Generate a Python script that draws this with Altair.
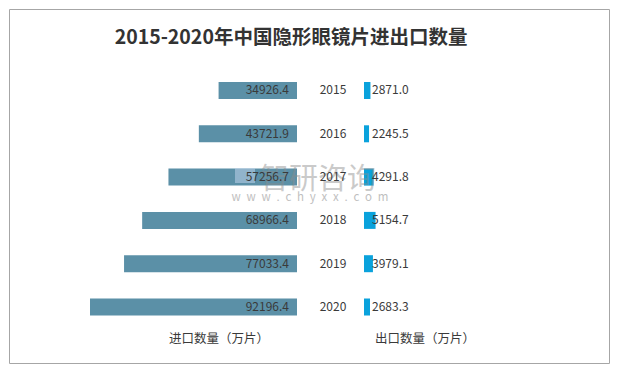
import altair as alt
import pandas as pd

# ---- data ----
years = [2015, 2016, 2017, 2018, 2019, 2020]
imports = [34926.4, 43721.9, 57256.7, 68966.4, 77033.4, 92196.4]
exports = [2871.0, 2245.5, 4291.8, 5154.7, 3979.1, 2683.3]

title_text = "2015-2020年中国隐形眼镜片进出口数量"
left_title = "进口数量（万片）"
right_title = "出口数量（万片）"
wm_name = "智研咨询"
wm_url = "\u2002".join("www.chyxx.com")

FONT = "Noto Sans CJK SC"
IMP_COLOR = "#5b90a7"
EXP_COLOR = "#0aa2dc"
TXT = "#3a3a3a"

df = pd.DataFrame({"year": years, "imp": imports, "exp": exports})

xs = alt.Scale(domain=[-143200, 124050], nice=False, zero=False)
ys = alt.Scale(domain=[2013.118, 2021.293], nice=False, zero=False, reverse=True)
Y = alt.Y("year:Q", scale=ys, axis=None)

base = alt.Chart(df).transform_calculate(neg="-datum.imp", zero="0")

left_bars = base.mark_rule(
    strokeWidth=17, strokeCap="butt", color=IMP_COLOR, xOffset=-33.5, x2Offset=-33.5
).encode(x=alt.X("neg:Q", scale=xs, axis=None), x2="zero:Q", y=Y)

right_bars = base.mark_rule(
    strokeWidth=17, strokeCap="butt", color=EXP_COLOR, xOffset=33.5, x2Offset=33.5
).encode(x=alt.X("zero:Q", scale=xs, axis=None), x2="exp:Q", y=Y)

left_labels = base.mark_text(
    align="right", baseline="middle", xOffset=-41.5, fontSize=12, font=FONT, color=TXT
).encode(x=alt.X("zero:Q", scale=xs, axis=None), y=Y, text=alt.Text("imp:Q", format=".1f"))

right_labels = base.mark_text(
    align="left", baseline="middle", xOffset=41.5, fontSize=12, font=FONT, color=TXT
).encode(x=alt.X("zero:Q", scale=xs, axis=None), y=Y, text=alt.Text("exp:Q", format=".1f"))

year_labels = base.mark_text(
    align="center", baseline="middle", xOffset=2.5, fontSize=12, font=FONT, color=TXT
).encode(x=alt.X("zero:Q", scale=xs, axis=None), y=Y, text=alt.Text("year:Q", format="d"))


def free_text(txt, x, y, **kw):
    return alt.Chart(pd.DataFrame({"t": [txt]})).mark_text(font=FONT, baseline="middle", **kw).encode(
        text="t:N", x=alt.value(x), y=alt.value(y)
    )


title = free_text(title_text, 282, 29, fontSize=19.5, fontWeight="bold", color="#333333", align="center")
lt = free_text(left_title, 210, 330, fontSize=12.5, color=TXT, align="center")
rt = free_text(right_title, 416, 330, fontSize=12.5, color=TXT, align="center")

# faint watermark, as in the reference
wm_logo = alt.Chart(pd.DataFrame({"t": [0]})).mark_rect(color="#b5cde4", opacity=0.6).encode(
    x=alt.value(226), x2=alt.value(246), y=alt.value(159), y2=alt.value(174)
)
wm1 = free_text(wm_name, 309, 171, fontSize=29, color="#8c8c8c", opacity=0.45, align="center")
wm2 = free_text(wm_url, 301, 189, fontSize=11.5, color="#8c8c8c", opacity=0.55, align="center")

chart = alt.layer(
    left_bars, right_bars, wm_logo, wm1, wm2, left_labels, right_labels, year_labels, title, lt, rt
).properties(
    width=602,
    height=356,
    padding=1,
    autosize=alt.AutoSizeParams(type="fit", contains="padding"),
    background="white",
).configure_view(stroke="#a6a6a6", strokeWidth=1)

chart.save("out.html", embed_options={"renderer": "svg", "actions": False})
